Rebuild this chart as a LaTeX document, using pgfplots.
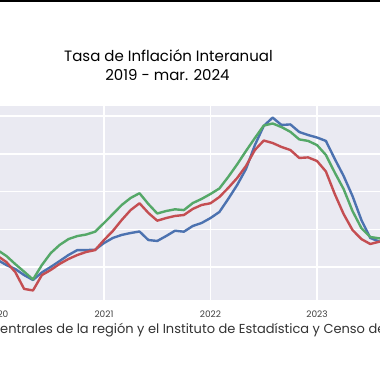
\documentclass[border=0pt]{standalone}
\usepackage{fontspec}
\setmainfont{Poppins}
\usepackage{pgfplots}
\pgfplotsset{compat=1.18}
\definecolor{sbblue}{HTML}{4C72B0}
\definecolor{sbgreen}{HTML}{55A868}
\definecolor{sbred}{HTML}{C44E52}
\definecolor{sbbg}{HTML}{EAEAF2}
\begin{document}
\begin{tikzpicture}[x=1pt,y=1pt]
\path[use as bounding box, clip] (0,0) rectangle (380,376);
\fill[white] (0,0) rectangle (380,376);
\fill[black] (0,374) rectangle (380,376);
\node[anchor=base, inner sep=0pt, font=\fontsize{15}{18}\selectfont] at (168.5,315) {Tasa de Inflación Interanual};
\node[anchor=base, inner sep=0pt, font=\fontsize{15}{18}\selectfont] at (167.5,296) {2019 - mar. 2024};
\begin{axis}[
  at={(-15.81pt,76pt)}, anchor=south west,
  scale only axis, width=403.81pt, height=194pt,
  xmin=-1.5, xmax=44, ymin=0.275, ymax=10.512,
  axis background/.style={fill=sbbg},
  axis line style={draw=none},
  grid=major, grid style={white, line width=1.8pt},
  xtick={0,12,24,36}, xticklabels={2020,2021,2022,2023},
  ytick={2,4,6,8,10}, yticklabels={},
  major tick length=0pt,
  /pgf/number format/assume math mode=true,
  xticklabel style={font=\fontsize{9}{10}\selectfont, text=black!75, yshift=-7.5pt},
  every axis plot/.append style={line width=2.4pt, line join=round},
]
\addplot[sbblue] coordinates {(-1,2.65)(0,2.39)(1,2.12)(2,1.91)(3,1.59)(4,1.33)(5,1.73)(6,2.02)(7,2.33)(8,2.65)(9,2.91)(10,2.91)(11,2.93)(12,3.28)(13,3.55)(14,3.71)(15,3.81)(16,3.89)(17,3.44)(18,3.39)(19,3.65)(20,3.93)(21,3.88)(22,4.18)(23,4.34)(24,4.60)(25,4.92)(26,5.61)(27,6.34)(28,7.19)(29,8.45)(30,9.46)(31,9.90)(32,9.51)(33,9.54)(34,9.14)(35,8.98)(36,8.85)(37,8.67)(38,7.72)(39,6.82)(40,5.76)(41,4.50)(42,3.55)(43,3.36)(44,3.39)};
\addplot[sbgreen] coordinates {(-1,3.12)(0,2.91)(1,2.60)(2,2.17)(3,1.77)(4,1.36)(5,2.12)(6,2.75)(7,3.18)(8,3.49)(9,3.65)(10,3.73)(11,3.88)(12,4.34)(13,4.81)(14,5.29)(15,5.66)(16,5.91)(17,5.34)(18,4.84)(19,4.97)(20,5.06)(21,5.02)(22,5.39)(23,5.61)(24,5.87)(25,6.16)(26,6.77)(27,7.43)(28,8.14)(29,8.82)(30,9.48)(31,9.59)(32,9.40)(33,9.15)(34,8.75)(35,8.67)(36,8.45)(37,7.93)(38,7.00)(39,6.13)(40,4.97)(41,4.07)(42,3.60)(43,3.53)(44,3.55)};
\addplot[sbred] coordinates {(-1,2.91)(0,2.60)(1,2.28)(2,1.75)(3,0.86)(4,0.78)(5,1.59)(6,1.86)(7,2.18)(8,2.44)(9,2.65)(10,2.81)(11,2.91)(12,3.44)(13,3.92)(14,4.50)(15,5.02)(16,5.38)(17,4.87)(18,4.46)(19,4.60)(20,4.71)(21,4.76)(22,5.08)(23,5.29)(24,5.38)(25,5.71)(26,6.19)(27,6.71)(28,7.35)(29,8.19)(30,8.69)(31,8.56)(32,8.35)(33,8.19)(34,7.77)(35,7.80)(36,7.61)(37,7.06)(38,5.87)(39,4.81)(40,3.97)(41,3.49)(42,3.23)(43,3.35)(44,3.39)};
\end{axis}
\node[anchor=base west, inner sep=0pt, font=\fontsize{13}{15}\selectfont, text=black!80] at (0,42.7) {entrales de la región y el Instituto de Estadística y Censo de};
\end{tikzpicture}
\end{document}
